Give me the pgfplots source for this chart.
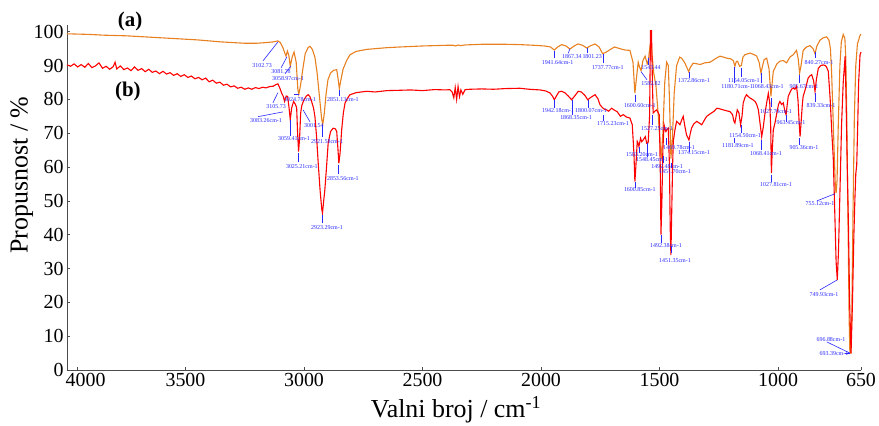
\documentclass[border=0pt]{standalone}
\usepackage{fontspec}
\setmainfont{Liberation Serif}
\usepackage{pgfplots}
\pgfplotsset{compat=1.18}
\usetikzlibrary{calc}

\definecolor{specA}{RGB}{232,128,32}
\definecolor{specB}{RGB}{255,0,0}
\definecolor{peak}{RGB}{40,40,255}

% (a) spectrum
\pgfplotstableread{
x y
4000 99.4
3950 99.3
3900 99.2
3850 99.0
3800 98.9
3750 98.8
3700 98.6
3650 98.4
3600 98.2
3550 98.0
3500 97.8
3450 97.6
3400 97.3
3350 97.0
3300 96.8
3250 96.6
3200 96.6
3160 96.8
3130 97.0
3110 97.3
3100 96.8
3089 95.3
3080 93.5
3076 92.8
3070 94.3
3064 93.0
3058 89.8
3050 92.5
3042 94.0
3033 91.0
3026 83.0
3022 81.5
3015 84.0
3006 88.5
2995 93.5
2983 95.3
2975 95.7
2965 94.8
2954 92.5
2945 88.0
2935 81.0
2926 74.5
2921 72.6
2915 75.5
2907 81.5
2899 85.8
2888 87.8
2875 88.6
2862 88.8
2856 86.0
2851 83.2
2845 85.5
2835 89.0
2820 91.5
2806 93.2
2780 94.2
2734 94.8
2650 95.3
2595 95.5
2500 95.8
2400 96.0
2370 96.0
2360 95.8
2350 96.1
2340 95.9
2320 96.1
2250 96.3
2150 96.3
2089 96.2
2030 96.0
1985 95.8
1960 95.5
1944 94.6
1930 95.5
1913 96.2
1895 95.8
1878 94.9
1860 95.8
1844 96.4
1825 96.0
1807 95.2
1790 95.9
1772 96.4
1755 95.5
1740 93.5
1725 94.0
1709 94.7
1690 95.5
1667 95.0
1645 94.6
1625 94.5
1612 91.0
1604 81.9
1597 86.5
1590 91.0
1584 89.5
1578 88.5
1570 91.5
1561 92.8
1552 90.5
1547 91.5
1540 96.0
1534 95.5
1525 88.0
1515 84.0
1505 75.0
1497 66.0
1492 63.5
1486 70.0
1478 85.0
1470 91.0
1463 90.0
1458 80.0
1452 62.5
1446 68.0
1438 82.0
1428 90.0
1415 92.5
1407 92.2
1395 91.0
1385 89.5
1377 88.2
1370 89.5
1358 90.7
1340 90.5
1329 90.3
1310 90.8
1287 91.0
1265 92.0
1245 92.8
1230 92.5
1217 92.2
1200 92.0
1189 91.5
1182 89.8
1176 91.2
1171 91.3
1162 89.8
1155 90.0
1148 92.5
1140 93.2
1118 93.7
1100 93.2
1090 92.8
1080 91.0
1072 87.8
1065 90.0
1059 91.7
1048 92.2
1038 89.0
1033 84.0
1030 80.9
1026 84.0
1020 88.3
1005 90.5
992 91.3
978 91.5
964 90.8
950 92.5
936 93.2
922 94.5
915 92.0
909 87.8
903 90.0
894 94.5
880 95.5
865 95.9
852 95.0
844 93.5
836 95.8
823 97.5
810 98.2
795 98.5
785 97.5
779 95.0
774 88.0
768 75.0
762 62.0
758 54.0
755 52.3
751 56.0
746 72.0
739 90.0
733 97.0
725 99.2
718 98.0
714 92.0
710 75.0
705 45.0
700 15.0
697 5.2
693 5.0
689 15.0
684 45.0
678 75.0
672 90.0
665 96.5
660 97.5
655 98.8
650 99.3
}\specA

% (b) spectrum
\pgfplotstableread{
x y
4000 90.2
3985 89.8
3970 90.5
3955 89.6
3940 90.3
3925 89.5
3910 90.6
3895 89.4
3880 89.9
3865 90.8
3850 89.2
3835 89.8
3820 88.9
3805 89.7
3797 91.0
3790 89.0
3775 89.9
3760 88.8
3745 89.3
3730 88.5
3715 89.6
3700 88.6
3685 89.1
3670 88.2
3655 88.9
3640 88.0
3625 88.4
3610 87.6
3595 88.3
3580 87.5
3565 87.9
3550 87.1
3535 87.6
3520 86.8
3505 87.3
3490 86.5
3475 86.9
3460 86.1
3445 86.5
3430 85.8
3415 86.3
3400 85.2
3385 85.7
3370 84.8
3355 85.1
3340 84.2
3325 84.5
3310 83.7
3295 84.0
3280 83.3
3265 83.6
3250 83.0
3235 83.4
3220 83.0
3205 83.5
3190 83.2
3175 83.6
3160 83.4
3145 83.8
3130 83.9
3118 84.4
3110 84.6
3100 83.0
3094 81.8
3088 81.0
3082 79.4
3075 81.0
3069 80.9
3063 77.5
3058 74.0
3052 77.5
3044 79.4
3036 78.5
3031 77.5
3027 70.0
3023 64.6
3019 68.0
3014 76.0
3010 78.0
3004 79.2
3000 79.9
2990 81.0
2982 81.4
2975 80.8
2968 79.4
2960 77.5
2954 75.0
2947 69.0
2940 61.1
2932 53.0
2925 47.5
2922 46.4
2917 50.0
2912 53.3
2905 60.0
2898 67.1
2888 70.5
2877 71.5
2868 71.3
2862 70.5
2857 65.5
2853 61.1
2848 64.0
2841 71.0
2834 76.0
2827 78.9
2815 80.5
2806 81.4
2780 82.0
2736 82.4
2700 82.2
2650 82.6
2595 82.7
2550 82.8
2500 82.6
2450 82.9
2400 82.8
2385 82.9
2375 82.2
2368 80.5
2362 83.5
2356 80.0
2350 83.8
2344 80.8
2338 82.8
2330 81.5
2320 82.9
2300 83.0
2250 83.1
2200 83.0
2150 83.2
2089 83.3
2050 83.0
2004 82.8
1980 82.5
1962 81.9
1952 81.0
1944 79.9
1935 81.0
1925 82.2
1913 82.4
1900 82.0
1885 81.0
1871 79.9
1858 81.0
1843 82.4
1830 82.2
1815 81.2
1803 79.9
1790 80.6
1772 81.4
1760 80.2
1751 78.4
1740 77.5
1730 77.0
1723 76.9
1715 76.5
1702 77.4
1690 76.8
1679 76.4
1665 75.0
1653 75.5
1640 74.8
1625 74.5
1615 72.5
1608 64.0
1604 55.7
1600 60.0
1594 67.6
1590 67.0
1587 66.1
1580 68.5
1575 67.5
1569 68.0
1560 69.0
1554 67.0
1548 67.2
1542 75.0
1538 100.3
1534 100.3
1530 85.0
1527 76.0
1520 76.5
1512 76.9
1505 76.0
1501 75.4
1497 60.0
1494 40.0
1490 50.0
1486 65.0
1481 72.5
1476 71.0
1473 70.5
1468 71.2
1463 71.5
1458 60.0
1455 42.0
1452 34.0
1449 45.0
1445 60.0
1442 67.6
1435 71.0
1428 73.5
1420 73.0
1414 72.5
1406 74.0
1400 75.0
1393 72.0
1386 69.5
1376 68.0
1370 70.0
1365 71.5
1355 72.8
1343 73.5
1332 73.0
1322 72.5
1310 74.0
1301 75.0
1287 75.7
1270 76.5
1258 77.4
1245 77.2
1231 76.9
1215 76.6
1203 76.4
1192 75.5
1186 73.5
1182 73.0
1177 75.0
1172 76.9
1165 76.0
1158 72.5
1152 75.0
1147 78.9
1140 80.5
1133 81.4
1125 80.8
1118 80.4
1108 80.0
1097 79.4
1090 78.5
1083 76.9
1076 73.0
1069 69.0
1063 71.5
1055 75.9
1048 79.0
1041 81.8
1035 79.0
1031 72.0
1028 58.2
1025 64.0
1020 71.0
1013 73.0
1005 76.0
998 78.5
992 79.4
985 78.5
978 79.0
971 76.5
966 75.5
962 78.0
957 80.9
950 82.0
943 83.0
936 83.4
929 83.0
922 83.9
916 80.0
910 72.0
907 69.0
903 73.0
897 79.0
894 80.9
885 83.0
873 86.3
865 87.0
858 87.3
850 85.5
844 82.4
838 86.0
830 89.2
820 90.0
809 90.2
800 90.0
795 89.5
788 88.3
780 80.0
773 70.0
767 62.6
760 45.0
755 32.0
750 26.6
745 35.0
738 55.0
732 72.5
725 85.0
717 92.8
713 80.0
708 60.0
703 42.9
698 20.0
692 4.9
686 20.0
680 40.0
676 50.0
672 58.0
668 60.7
664 72.0
660 85.0
654 93.2
650 94.0
}\specB

\begin{document}
\begin{tikzpicture}[
  lbl/.style={font=\fontsize{6}{7}\selectfont, text=peak, inner sep=0pt},
  ldr/.style={draw=peak, line width=0.6bp}]
\begin{axis}[
  name=ax,
  scale only axis,
  width=794bp, height=345bp,
  x dir=reverse,
  xmin=650, xmax=4000,
  ymin=0, ymax=102,
  axis x line*=bottom,
  axis y line*=left,
  axis line style={-, black!70, line width=0.8bp},
  tick align=inside,
  major tick length=3bp,
  tick style={black!70, line width=0.6bp},
  xtick={3955,3500,3000,2500,2000,1500,1000,650},
  xticklabels={\hspace{16bp}4000,3500,3000,2500,2000,1500,1000,650},
  ytick={0,10,...,100},
  /pgf/number format/assume math mode=true,
  ticklabel style={font=\fontsize{20}{24}\selectfont},
  xlabel={Valni broj / cm\textsuperscript{-1}},
  ylabel={Propusnost / \%},
  label style={font=\fontsize{26}{30}\selectfont},
  xlabel style={at={(axis description cs:0.49,-0.116)}, anchor=center},
  ylabel style={at={(axis description cs:-0.057,0.565)}, anchor=center},
  clip=false,
]
\addplot[specA, line width=1.1bp] table[x=x, y=y] {\specA};
\addplot[specB, line width=1.1bp] table[x=x, y=y] {\specB};

\node[font=\bfseries\fontsize{21}{25}\selectfont] at (axis cs:3734,103.0) {(a)};
\node[font=\bfseries\fontsize{21}{25}\selectfont] at (axis cs:3743,82.3) {(b)};

% peak labels, spectrum (a)
\draw[ldr] (axis cs:3110,97.0) -- (axis cs:3173,91.4);
\node[lbl] at (axis cs:3177,89.9) {3102.73};
\draw[ldr] (axis cs:3072,92.6) -- (axis cs:3097,89.3);
\node[lbl] at (axis cs:3097,88.2) {3081.78};
\draw[ldr] (axis cs:3055,89.9) -- (axis cs:3080,87.6);
\node[lbl] at (axis cs:3068,86.1) {3058.97cm-1};
\draw[ldr] (axis cs:3042,81.4) -- (axis cs:3021,81.4);
\node[lbl] at (axis cs:3017,79.9) {3024.78cm-1};
\draw[ldr] (axis cs:2924,72.5) -- (axis cs:2924,68.9);
\node[lbl] at (axis cs:2903,67.5) {2921.58cm-1};
\draw[ldr] (axis cs:2852,82.8) -- (axis cs:2852,81.0);
\node[lbl] at (axis cs:2836,79.9) {2851.13cm-1};
\draw[ldr] (axis cs:1945,94.4) -- (axis cs:1945,92.3);
\node[lbl] at (axis cs:1930,90.8) {1941.64cm-1};
\draw[ldr] (axis cs:1878,95.0) -- (axis cs:1885,93.6);
\node[lbl] at (axis cs:1870,92.7) {1867.34};
\draw[ldr] (axis cs:1806,95.3) -- (axis cs:1806,93.6);
\node[lbl] at (axis cs:1784,92.7) {1801.23};
\draw[ldr] (axis cs:1739,93.5) -- (axis cs:1739,90.8);
\node[lbl] at (axis cs:1718,89.3) {1737.77cm-1};
\draw[ldr] (axis cs:1604,81.4) -- (axis cs:1604,79.3);
\node[lbl] at (axis cs:1583,78.1) {1600.60cm-1};
\draw[ldr] (axis cs:1549,92.3) -- (axis cs:1549,90.2);
\node[lbl] at (axis cs:1536,89.3) {1543.44};
\draw[ldr] (axis cs:1578,88.2) -- (axis cs:1553,85.8);
\node[lbl] at (axis cs:1536,84.6) {1582.82};
\draw[ldr] (axis cs:1486,63.3) -- (axis cs:1486,61.2);
\node[lbl] at (axis cs:1468,60.1) {1492.48cm-1};
\draw[ldr] (axis cs:1452,61.2) -- (axis cs:1452,59.6);
\node[lbl] at (axis cs:1435,58.6) {1451.70cm-1};
\draw[ldr] (axis cs:1376,88.2) -- (axis cs:1376,86.4);
\node[lbl] at (axis cs:1355,85.5) {1372.86cm-1};
\draw[ldr] (axis cs:1156,89.3) -- (axis cs:1156,86.7);
\node[lbl] at (axis cs:1144,85.5) {1154.05cm-1};
\draw[ldr] (axis cs:1186,89.6) -- (axis cs:1186,84.9);
\node[lbl] at (axis cs:1173,83.7) {1180.71cm-1};
\draw[ldr] (axis cs:1072,87.9) -- (axis cs:1072,84.9);
\node[lbl] at (axis cs:1043,83.7) {1068.43cm-1};
\draw[ldr] (axis cs:1030,80.3) -- (axis cs:1030,77.8);
\node[lbl] at (axis cs:1009,76.3) {1027.70cm-1};
\draw[ldr] (axis cs:912,87.3) -- (axis cs:912,84.9);
\node[lbl] at (axis cs:891,83.7) {905.67cm-1};
\draw[ldr] (axis cs:844,94.1) -- (axis cs:844,92.3);
\node[lbl] at (axis cs:827,90.8) {840.27cm-1};
\draw[ldr] (axis cs:836,50.0) -- (axis cs:760,52.1);
\node[lbl] at (axis cs:823,49.1) {755.12cm-1};

% peak labels, spectrum (b)
\draw[ldr] (axis cs:3110,82.0) -- (axis cs:3131,79.0);
\node[lbl] at (axis cs:3118,77.8) {3105.73};
\draw[ldr] (axis cs:3089,76.3) -- (axis cs:3194,74.9);
\node[lbl] at (axis cs:3160,73.7) {3083.26cm-1};
\draw[ldr] (axis cs:3059,74.0) -- (axis cs:3059,69.2);
\node[lbl] at (axis cs:3042,68.3) {3059.41cm-1};
\draw[ldr] (axis cs:3025,64.2) -- (axis cs:3025,61.5);
\node[lbl] at (axis cs:3009,60.1) {3025.21cm-1};
\draw[ldr] (axis cs:3004,76.9) -- (axis cs:2975,73.4);
\node[lbl] at (axis cs:2958,72.2) {3001.54};
\draw[ldr] (axis cs:2924,45.9) -- (axis cs:2924,43.5);
\node[lbl] at (axis cs:2903,42.0) {2923.29cm-1};
\draw[ldr] (axis cs:2857,60.7) -- (axis cs:2857,58.0);
\node[lbl] at (axis cs:2836,56.5) {2853.56cm-1};
\draw[ldr] (axis cs:1945,79.9) -- (axis cs:1945,77.5);
\node[lbl] at (axis cs:1928,76.6) {1942.18cm-1};
\draw[ldr] (axis cs:1869,79.9) -- (axis cs:1869,75.4);
\node[lbl] at (axis cs:1852,74.6) {1868.35cm-1};
\draw[ldr] (axis cs:1802,79.9) -- (axis cs:1802,77.5);
\node[lbl] at (axis cs:1789,76.6) {1800.07cm-1};
\draw[ldr] (axis cs:1739,75.4) -- (axis cs:1739,73.7);
\node[lbl] at (axis cs:1696,72.8) {1715.23cm-1};
\draw[ldr] (axis cs:1532,75.4) -- (axis cs:1532,72.5);
\node[lbl] at (axis cs:1511,71.3) {1527.25cm-1};
\draw[ldr] (axis cs:1587,66.0) -- (axis cs:1587,64.2);
\node[lbl] at (axis cs:1574,63.6) {1583.20cm-1};
\draw[ldr] (axis cs:1553,67.2) -- (axis cs:1553,63.0);
\node[lbl] at (axis cs:1532,62.1) {1548.45cm-1};
\draw[ldr] (axis cs:1473,68.6) -- (axis cs:1473,66.6);
\node[lbl] at (axis cs:1418,65.7) {1469.78cm-1};
\draw[ldr] (axis cs:1376,67.5) -- (axis cs:1376,64.5);
\node[lbl] at (axis cs:1355,64.2) {1374.15cm-1};
\draw[ldr] (axis cs:1604,55.6) -- (axis cs:1604,53.8);
\node[lbl] at (axis cs:1583,53.3) {1600.85cm-1};
\draw[ldr] (axis cs:1494,39.9) -- (axis cs:1494,37.6);
\node[lbl] at (axis cs:1473,36.7) {1492.38cm-1};
\draw[ldr] (axis cs:1452,36.7) -- (axis cs:1452,34.6);
\node[lbl] at (axis cs:1435,32.4) {1451.35cm-1};
\draw[ldr] (axis cs:1156,72.5) -- (axis cs:1156,70.1);
\node[lbl] at (axis cs:1139,69.2) {1154.50cm-1};
\draw[ldr] (axis cs:1186,68.6) -- (axis cs:1186,67.2);
\node[lbl] at (axis cs:1169,66.3) {1181.89cm-1};
\draw[ldr] (axis cs:1072,68.0) -- (axis cs:1072,65.1);
\node[lbl] at (axis cs:1051,63.9) {1068.41cm-1};
\draw[ldr] (axis cs:1030,57.7) -- (axis cs:1030,55.6);
\node[lbl] at (axis cs:1009,54.7) {1027.81cm-1};
\draw[ldr] (axis cs:967,75.4) -- (axis cs:967,73.4);
\node[lbl] at (axis cs:945,73.1) {963.45cm-1};
\draw[ldr] (axis cs:912,68.6) -- (axis cs:912,66.6);
\node[lbl] at (axis cs:891,65.7) {905.36cm-1};
\draw[ldr] (axis cs:844,82.0) -- (axis cs:844,79.3);
\node[lbl] at (axis cs:819,78.1) {839.33cm-1};
\draw[ldr] (axis cs:823,23.7) -- (axis cs:751,26.6);
\node[lbl] at (axis cs:806,22.2) {749.93cm-1};
\draw[ldr] (axis cs:794,8.3) -- (axis cs:697,5.0);
\node[lbl] at (axis cs:777,8.9) {696.88cm-1};
\draw[ldr] (axis cs:718,5.0) -- (axis cs:697,5.0);
\node[lbl] at (axis cs:764,5.0) {693.39cm-1};
\end{axis}
\pgfresetboundingbox
\path[use as bounding box] ($(ax.south west)+(-67bp,-56bp)$) rectangle ($(ax.north east)+(18bp,25bp)$);
\end{tikzpicture}
\end{document}
